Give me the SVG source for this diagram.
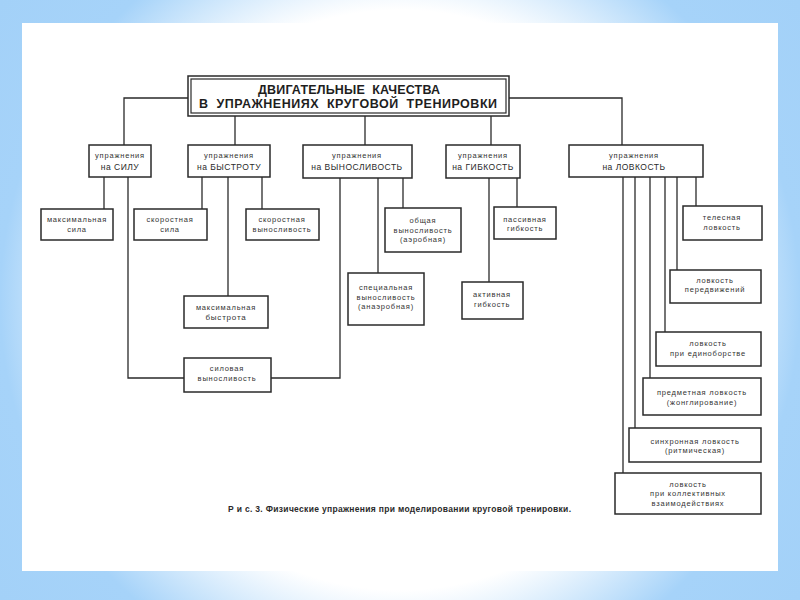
<svg xmlns="http://www.w3.org/2000/svg" width="800" height="600" viewBox="0 0 800 600">
<defs>
<radialGradient id="bg" gradientUnits="userSpaceOnUse" cx="400" cy="300" r="500">
<stop offset="0" stop-color="#ffffff"/>
<stop offset="0.58" stop-color="#ffffff"/>
<stop offset="0.8" stop-color="#a6d3f9"/>
<stop offset="1" stop-color="#a3d1f8"/>
</radialGradient>
<style>
.box{fill:#fff;stroke:#2a2a2a;stroke-width:1.5}
.ln{fill:none;stroke:#2a2a2a;stroke-width:1.3}
.t{font-family:"Liberation Sans",Arial,sans-serif;font-size:7.5px;letter-spacing:0.8px;fill:#333;text-anchor:middle}
.c{font-family:"Liberation Sans",Arial,sans-serif;font-size:8.5px;letter-spacing:0.5px;fill:#2a2a2a;text-anchor:middle}
.h{font-family:"Liberation Sans",Arial,sans-serif;font-size:12.5px;font-weight:bold;fill:#1e1e1e;text-anchor:middle;white-space:pre}
.cap{font-family:"Liberation Sans",Arial,sans-serif;font-size:8.5px;font-weight:bold;fill:#2a2a2a}
</style>
</defs>
<rect x="0" y="0" width="800" height="600" fill="url(#bg)"/>
<rect x="22" y="23" width="756" height="548" fill="#ffffff"/>

<g id="connectors">
<path class="ln" d="M188 98 H124 V145"/>
<path class="ln" d="M509 98 H622 V145"/>
<path class="ln" d="M235 116 V145"/>
<path class="ln" d="M365 116 V145"/>
<path class="ln" d="M491 116 V145"/>
<path class="ln" d="M104 177 V209"/>
<path class="ln" d="M128 177 V378 H184"/>
<path class="ln" d="M202 177 V209"/>
<path class="ln" d="M228 177 V296"/>
<path class="ln" d="M262 177 V209"/>
<path class="ln" d="M340 178 V378 H271"/>
<path class="ln" d="M378 178 V273"/>
<path class="ln" d="M403 178 V208"/>
<path class="ln" d="M517 178 V207"/>
<path class="ln" d="M489 178 V282"/>
<path class="ln" d="M696 177 V206"/>
<path class="ln" d="M677 177 V270"/>
<path class="ln" d="M665 177 V332"/>
<path class="ln" d="M650 177 V378"/>
<path class="ln" d="M635 177 V428"/>
<path class="ln" d="M623 177 V473"/>
</g>

<g id="title">
<rect class="box" x="188" y="76" width="321" height="40"/>
<rect x="191" y="79" width="315" height="34" fill="none" stroke="#2a2a2a" stroke-width="1.2"/>
<text class="h" xml:space="preserve" x="349" y="94" textLength="182" lengthAdjust="spacing">ДВИГАТЕЛЬНЫЕ  КАЧЕСТВА</text>
<text class="h" xml:space="preserve" x="348" y="108" textLength="298" lengthAdjust="spacing">В  УПРАЖНЕНИЯХ  КРУГОВОЙ  ТРЕНИРОВКИ</text>
</g>

<g id="cat-sila">
<rect class="box" x="89" y="145" width="62" height="32"/>
<text class="t" x="120" y="158">упражнения</text>
<text class="c" x="120" y="170">на СИЛУ</text>
</g>
<g id="cat-bystrota">
<rect class="box" x="188" y="145" width="82" height="32"/>
<text class="t" x="229" y="158">упражнения</text>
<text class="c" x="229" y="170">на БЫСТРОТУ</text>
</g>
<g id="cat-vynoslivost">
<rect class="box" x="303" y="145" width="109" height="33"/>
<text class="t" x="357" y="158">упражнения</text>
<text class="c" x="357" y="170">на ВЫНОСЛИВОСТЬ</text>
</g>
<g id="cat-gibkost">
<rect class="box" x="446" y="145" width="74" height="33"/>
<text class="t" x="483" y="158">упражнения</text>
<text class="c" x="483" y="170">на ГИБКОСТЬ</text>
</g>
<g id="cat-lovkost">
<rect class="box" x="569" y="145" width="134" height="32"/>
<text class="t" x="634" y="158">упражнения</text>
<text class="c" x="634" y="170">на ЛОВКОСТЬ</text>
</g>

<g id="max-sila">
<rect class="box" x="41" y="209" width="72" height="31"/>
<text class="t" x="77" y="221.5">максимальная</text>
<text class="t" x="77" y="231.5">сила</text>
</g>
<g id="skor-sila">
<rect class="box" x="134" y="209" width="73" height="31"/>
<text class="t" x="170" y="221.5">скоростная</text>
<text class="t" x="170" y="231.5">сила</text>
</g>
<g id="skor-vynoslivost">
<rect class="box" x="246" y="209" width="73" height="31"/>
<text class="t" x="282" y="221.5">скоростная</text>
<text class="t" x="282" y="231.5">выносливость</text>
</g>
<g id="max-bystrota">
<rect class="box" x="184" y="296" width="84" height="32"/>
<text class="t" x="226" y="309.5">максимальная</text>
<text class="t" x="226" y="319.5" style="font-size:8px">быстрота</text>
</g>
<g id="silovaya-vynoslivost">
<rect class="box" x="184" y="358" width="87" height="34"/>
<text class="t" x="227" y="370.5">силовая</text>
<text class="t" x="227" y="380.5">выносливость</text>
</g>
<g id="obshaya-vynoslivost">
<rect class="box" x="385" y="208" width="76" height="44"/>
<text class="t" x="423" y="222.5">общая</text>
<text class="t" x="423" y="232.5">выносливость</text>
<text class="t" x="423" y="242">(аэробная)</text>
</g>
<g id="spec-vynoslivost">
<rect class="box" x="348" y="273" width="76" height="52"/>
<text class="t" x="386" y="289.5">специальная</text>
<text class="t" x="386" y="299.5">выносливость</text>
<text class="t" x="386" y="309">(анаэробная)</text>
</g>
<g id="passivnaya-gibkost">
<rect class="box" x="494" y="207" width="62" height="32"/>
<text class="t" x="525" y="221.5">пассивная</text>
<text class="t" x="525" y="230.5">гибкость</text>
</g>
<g id="aktivnaya-gibkost">
<rect class="box" x="462" y="282" width="61" height="37"/>
<text class="t" x="492" y="296.5">активная</text>
<text class="t" x="492" y="306.5">гибкость</text>
</g>

<g id="telesnaya-lovkost">
<rect class="box" x="683" y="206" width="79" height="34"/>
<text class="t" x="722" y="219.5">телесная</text>
<text class="t" x="722" y="229.5">ловкость</text>
</g>
<g id="lovkost-peredvizheniy">
<rect class="box" x="670" y="270" width="91" height="33"/>
<text class="t" x="715" y="282.5">ловкость</text>
<text class="t" x="715" y="291.5">передвижений</text>
</g>
<g id="lovkost-edinoborstvo">
<rect class="box" x="656" y="332" width="105" height="34"/>
<text class="t" x="708" y="345.5">ловкость</text>
<text class="t" x="708" y="355.5">при единоборстве</text>
</g>
<g id="predmetnaya-lovkost">
<rect class="box" x="643" y="378" width="118" height="37"/>
<text class="t" x="702" y="394.5">предметная ловкость</text>
<text class="t" x="702" y="404.5">(жонглирование)</text>
</g>
<g id="sinhronnaya-lovkost">
<rect class="box" x="629" y="428" width="132" height="34"/>
<text class="t" x="695" y="443.5">синхронная ловкость</text>
<text class="t" x="695" y="452.5">(ритмическая)</text>
</g>
<g id="kollektivnaya-lovkost">
<rect class="box" x="615" y="473" width="146" height="41"/>
<text class="t" x="688" y="486.5">ловкость</text>
<text class="t" x="688" y="495.5">при коллективных</text>
<text class="t" x="688" y="505.5">взаимодействиях</text>
</g>

<text class="cap" x="228" y="512" textLength="343" lengthAdjust="spacing">Р и с. 3. Физические упражнения при моделировании круговой тренировки.</text>
</svg>
